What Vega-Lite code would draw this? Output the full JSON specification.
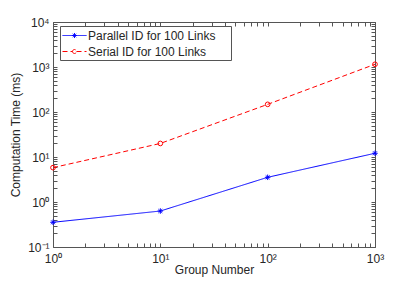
{
  "$schema": "https://vega.github.io/schema/vega-lite/v6.json",
  "width": 322,
  "height": 225,
  "autosize": "none",
  "padding": {"left": 53, "top": 22, "right": 40, "bottom": 36},
  "config": {
    "font": "Liberation Sans",
    "view": {"stroke": null},
    "axis": {
      "grid": false,
      "domainColor": "#555555",
      "tickColor": "#555555",
      "tickSize": -4,
      "labelColor": "#262626",
      "labelFontSize": 12,
      "labelOverlap": false,
      "labelFlush": false,
      "titleColor": "#262626",
      "titleFontSize": 12,
      "titleFontWeight": "normal"
    }
  },
  "data": {
    "values": [
      {"group": 1, "time": 0.354, "series": "Parallel ID for 100 Links"},
      {"group": 10, "time": 0.63, "series": "Parallel ID for 100 Links"},
      {"group": 100, "time": 3.54, "series": "Parallel ID for 100 Links"},
      {"group": 1000, "time": 12.1, "series": "Parallel ID for 100 Links"},
      {"group": 1, "time": 5.8, "series": "Serial ID for 100 Links"},
      {"group": 10, "time": 20, "series": "Serial ID for 100 Links"},
      {"group": 100, "time": 148, "series": "Serial ID for 100 Links"},
      {"group": 1000, "time": 1150, "series": "Serial ID for 100 Links"}
    ]
  },
  "layer": [
    {
      "mark": {"type": "line", "strokeWidth": 1},
      "encoding": {
        "x": {
          "field": "group", "type": "quantitative",
          "scale": {"type": "log", "domain": [1, 1000], "nice": false},
          "axis": {
            "title": "Group Number",
            "orient": "bottom",
            "values": [1,2,3,4,5,6,7,8,9,10,20,30,40,50,60,70,80,90,100,200,300,400,500,600,700,800,900,1000],
            "labelExpr": "abs(log(datum.value)/LN10 - round(log(datum.value)/LN10)) < 0.001 ? '10' + ['⁰','¹','²','³'][round(log(datum.value)/LN10)] : ''",
            "labelPadding": 10,
            "titlePadding": 0
          }
        },
        "y": {
          "field": "time", "type": "quantitative",
          "scale": {"type": "log", "domain": [0.1, 10000], "nice": false},
          "axis": {
            "title": "Computation Time (ms)",
            "orient": "left",
            "values": [0.1,0.2,0.3,0.4,0.5,0.6,0.7,0.8,0.9,1,2,3,4,5,6,7,8,9,10,20,30,40,50,60,70,80,90,100,200,300,400,500,600,700,800,900,1000,2000,3000,4000,5000,6000,7000,8000,9000,10000],
            "labelExpr": "abs(log(datum.value)/LN10 - round(log(datum.value)/LN10)) < 0.001 ? '10' + ['⁻¹','⁰','¹','²','³','⁴'][round(log(datum.value)/LN10)+1] : ''",
            "labelPadding": 8,
            "titlePadding": 5
          }
        },
        "color": {
          "field": "series", "type": "nominal",
          "scale": {"domain": ["Parallel ID for 100 Links", "Serial ID for 100 Links"], "range": ["#0000ff", "#ff0000"]},
          "legend": {
            "title": null,
            "orient": "none",
            "legendX": 7,
            "legendY": 4,
            "padding": 2,
            "fillColor": "white",
            "strokeColor": "#555555",
            "labelFontSize": 12,
            "labelColor": "#262626",
            "labelOffset": 11,
            "labelExpr": "datum.label + '\u00a0\u00a0\u00a0\u00a0\u200b'",
            "rowPadding": 2,
            "symbolSize": 196,
            "symbolStrokeWidth": 1,
            "encode": {
              "symbols": {
                "update": {
                  "shape": {"signal": "datum.value == 'Parallel ID for 100 Links' ? 'M-1,0L2.43,0M0.35,0L1.07,0M0.71,-0.36L0.71,0.36M0.46,-0.25L0.96,0.25M0.46,0.25L0.96,-0.25' : 'M-1,0L0.43,0M1,0L2.43,0M0.43,0A0.28,0.28 0 1,0 1,0A0.28,0.28 0 1,0 0.43,0'"},
                  "strokeDash": {"signal": "datum.value == 'Parallel ID for 100 Links' ? [1, 0] : [5, 3]"},
                  "fill": {"value": "transparent"},
                  "opacity": {"value": 1}
                }
              }
            }
          }
        },
        "strokeDash": {
          "field": "series", "type": "nominal",
          "scale": {"domain": ["Parallel ID for 100 Links", "Serial ID for 100 Links"], "range": [[1, 0], [5, 3]]},
          "legend": null
        }
      }
    },
    {
      "transform": [{"filter": "datum.series == 'Parallel ID for 100 Links'"}],
      "mark": {"type": "point", "filled": false, "strokeWidth": 1, "size": 30, "opacity": 1, "shape": "M-1,0L1,0M0,-1L0,1M-0.7,-0.7L0.7,0.7M-0.7,0.7L0.7,-0.7"},
      "encoding": {
        "x": {"field": "group", "type": "quantitative", "axis": null},
        "y": {"field": "time", "type": "quantitative", "axis": null},
        "color": {"field": "series", "type": "nominal", "legend": null}
      }
    },
    {
      "transform": [{"filter": "datum.series == 'Serial ID for 100 Links'"}],
      "mark": {"type": "point", "filled": false, "strokeWidth": 1, "size": 22, "opacity": 1, "shape": "circle"},
      "encoding": {
        "x": {"field": "group", "type": "quantitative", "axis": null},
        "y": {"field": "time", "type": "quantitative", "axis": null},
        "color": {"field": "series", "type": "nominal", "legend": null}
      }
    },
    {
      "mark": {"type": "line", "opacity": 0},
      "encoding": {
        "x": {
          "field": "group", "type": "quantitative",
          "axis": {
            "orient": "top", "title": null, "labels": false,
            "values": [1,2,3,4,5,6,7,8,9,10,20,30,40,50,60,70,80,90,100,200,300,400,500,600,700,800,900,1000]
          }
        },
        "y": {
          "field": "time", "type": "quantitative",
          "axis": {
            "orient": "right", "title": null, "labels": false,
            "values": [0.1,0.2,0.3,0.4,0.5,0.6,0.7,0.8,0.9,1,2,3,4,5,6,7,8,9,10,20,30,40,50,60,70,80,90,100,200,300,400,500,600,700,800,900,1000,2000,3000,4000,5000,6000,7000,8000,9000,10000]
          }
        }
      }
    }
  ],
  "resolve": {"axis": {"x": "independent", "y": "independent"}}
}
